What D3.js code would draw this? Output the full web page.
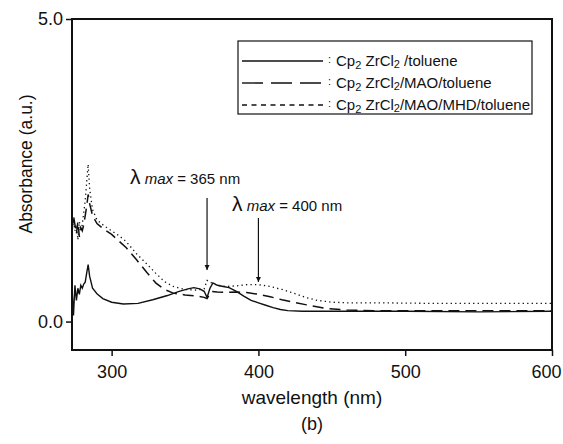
<!DOCTYPE html>
<html>
<head>
<meta charset="utf-8">
<script src="https://cdn.jsdelivr.net/npm/d3@7"></script>
<style>
  body { margin: 0; background: #fff; }
  text { font-family: "Liberation Sans", Arial, sans-serif; fill: #111; }
</style>
</head>
<body>
<div class="grafico"></div>
<script>
const width = 563, height = 444;

// data
const wlSolid = [273, 274, 275, 276, 277, 278, 279, 280, 281, 282, 283, 284, 285, 287, 290, 294, 300, 308, 318, 328, 338, 346, 352, 356, 360, 363, 365, 367, 369, 372, 376, 380, 385, 390, 395, 400, 405, 410, 415, 420, 430, 440, 460, 500, 550, 600];
const absSolid = [0.55, 0.1, 0.6, 0.35, 0.55, 0.45, 0.6, 0.55, 0.62, 0.65, 0.8, 0.94, 0.75, 0.55, 0.46, 0.38, 0.32, 0.29, 0.30, 0.36, 0.43, 0.50, 0.54, 0.56, 0.54, 0.50, 0.40, 0.55, 0.64, 0.60, 0.58, 0.56, 0.50, 0.42, 0.35, 0.31, 0.27, 0.23, 0.20, 0.18, 0.17, 0.17, 0.17, 0.17, 0.16, 0.17];

const wlMAO = [273, 274, 275, 276, 277, 278, 279, 280, 281, 282, 283, 284, 285, 287, 290, 295, 300, 305, 310, 317, 324, 330, 336, 342, 350, 358, 363, 365, 368, 372, 378, 385, 392, 400, 408, 416, 424, 432, 445, 460, 480, 520, 560, 600];
const absMAO = [1.5, 1.75, 1.6, 1.45, 1.65, 1.4, 1.55, 1.5, 1.6, 1.75, 1.9, 2.1, 1.95, 1.75, 1.62, 1.52, 1.44, 1.33, 1.22, 1.02, 0.81, 0.64, 0.53, 0.47, 0.44, 0.42, 0.40, 0.38, 0.50, 0.49, 0.48, 0.49, 0.48, 0.45, 0.41, 0.36, 0.32, 0.28, 0.22, 0.19, 0.18, 0.18, 0.18, 0.18];

const wlMHD = [273, 274, 275, 276, 277, 278, 279, 280, 281, 282, 283, 284, 285, 287, 290, 295, 300, 305, 310, 317, 324, 330, 336, 342, 350, 358, 363, 365, 368, 372, 378, 385, 392, 400, 408, 416, 424, 432, 440, 450, 460, 480, 520, 560, 600];
const absMHD = [1.45, 1.7, 1.5, 1.6, 1.35, 1.65, 1.5, 1.6, 1.8, 2.0, 2.3, 2.6, 2.2, 1.85, 1.68, 1.58, 1.50, 1.42, 1.32, 1.12, 0.95, 0.80, 0.66, 0.58, 0.53, 0.52, 0.54, 0.68, 0.64, 0.60, 0.58, 0.59, 0.61, 0.61, 0.58, 0.53, 0.47, 0.40, 0.35, 0.32, 0.31, 0.31, 0.30, 0.30, 0.30];

const xTicks = [300, 400, 500, 600];
const yTicks = [0, 5];
const legendLabels = [" /toluene", "/MAO/toluene", "/MAO/MHD/toluene"];
const peaks = [365, 400];

const margin = { top: 19, right: 11, bottom: 94, left: 72 };
const w = width - margin.left - margin.right;
const h = height - margin.top - margin.bottom;

const svg = d3.select(".grafico")
    .append("svg")
    .attr("width", width)
    .attr("height", height);

const g = svg.append("g")
    .attr("transform", `translate(${margin.left}, ${margin.top})`);

const x = d3.scaleLinear().domain([273, 600]).range([0, w]);
const y = d3.scaleLinear().domain([-0.47, 5.0]).range([h, 0]);

const series = [
    { wl: wlSolid, abs: absSolid, dash: null, width: 1.4 },
    { wl: wlMAO, abs: absMAO, dash: "11,6", width: 1.5 },
    { wl: wlMHD, abs: absMHD, dash: "1.3,3.2", width: 1.3 }
];

const line = d3.line()
    .x(d => x(d[0]))
    .y(d => y(d[1]));

g.selectAll("path.curve")
    .data(series)
    .enter().append("path")
    .attr("class", "curve")
    .attr("fill", "none")
    .attr("stroke", "#111")
    .attr("stroke-width", d => d.width)
    .attr("stroke-dasharray", d => d.dash)
    .attr("d", d => line(d3.zip(d.wl, d.abs)));

// axes
const xAxis = g.append("g")
    .attr("transform", `translate(0, ${h})`)
    .call(d3.axisBottom(x).tickValues(xTicks).tickSize(6).tickPadding(9).tickFormat(d3.format("d")));
const yAxis = g.append("g")
    .call(d3.axisLeft(y).tickValues(yTicks).tickSize(6).tickPadding(3).tickFormat(d3.format(".1f")));

[xAxis, yAxis].forEach(a => {
    a.select(".domain").remove();
    a.selectAll("line").attr("stroke", "#111").attr("stroke-width", 1.5);
    a.selectAll("text").style("font-size", "18px").attr("fill", "#111");
});
// last label sits a little left of its tick, as in the source
xAxis.selectAll(".tick text").filter(d => d === 600).attr("dx", "-6");

// frame
g.append("rect")
    .attr("width", w)
    .attr("height", h)
    .attr("fill", "none")
    .attr("stroke", "#111")
    .attr("stroke-width", 2);

// axis titles
svg.append("text")
    .attr("x", margin.left + w / 2)
    .attr("y", 404)
    .attr("text-anchor", "middle")
    .style("font-size", "19px")
    .text("wavelength (nm)");

svg.append("text")
    .attr("transform", `translate(32, ${margin.top + 145}) rotate(-90)`)
    .attr("text-anchor", "middle")
    .style("font-size", "17.5px")
    .text("Absorbance (a.u.)");

svg.append("text")
    .attr("x", margin.left + w / 2)
    .attr("y", 430)
    .attr("text-anchor", "middle")
    .style("font-size", "18px")
    .text("(b)");

// arrows for peak maxima
const arrowTop = [198 - margin.top, 218 - margin.top];
const arrowTip = [270 - margin.top, 282 - margin.top];
const labelPos = [[130, 184], [232, 211]];

svg.append("defs").append("marker")
    .attr("id", "head")
    .attr("viewBox", "0 0 10 10")
    .attr("refX", 10).attr("refY", 5)
    .attr("markerWidth", 5).attr("markerHeight", 7)
    .attr("markerUnits", "userSpaceOnUse")
    .attr("orient", "auto")
    .append("path")
    .attr("d", "M0,0L10,5L0,10Z")
    .attr("fill", "#111");

peaks.forEach((p, i) => {
    g.append("line")
        .attr("x1", x(p)).attr("x2", x(p))
        .attr("y1", arrowTop[i]).attr("y2", arrowTip[i])
        .attr("stroke", "#111")
        .attr("stroke-width", 1.2)
        .attr("marker-end", "url(#head)");

    const t = svg.append("text")
        .attr("x", labelPos[i][0])
        .attr("y", labelPos[i][1]);
    t.append("tspan").style("font-size", "21px").text("λ");
    t.append("tspan").style("font-size", "15px").style("font-style", "italic").text(" max");
    t.append("tspan").style("font-size", "15px").text(` = ${p} nm`);
});

// legend
const lg = svg.append("g");
lg.append("rect")
    .attr("x", 238).attr("y", 41)
    .attr("width", 294).attr("height", 73)
    .attr("fill", "#fff")
    .attr("stroke", "#111")
    .attr("stroke-width", 1.2);

const legendDash = [null, "21,8", "5,4.5"];
legendLabels.forEach((lab, i) => {
    const ly = 61 + i * 22;
    lg.append("line")
        .attr("x1", 242).attr("x2", 323)
        .attr("y1", ly).attr("y2", ly)
        .attr("stroke", "#111")
        .attr("stroke-width", 1.4)
        .attr("stroke-dasharray", legendDash[i]);
    lg.append("text")
        .attr("x", 328).attr("y", ly + 2)
        .style("font-size", "11px")
        .text(":");
    const t = lg.append("text")
        .attr("x", 336).attr("y", ly + 5)
        .style("font-size", "15px");
    t.append("tspan").text("Cp");
    t.append("tspan").attr("dy", 3).style("font-size", "11px").text("2");
    t.append("tspan").attr("dy", -3).text(" ZrCl");
    t.append("tspan").attr("dy", 2).style("font-size", "11px").text("2");
    t.append("tspan").attr("dy", -2).text(lab);
});
</script>
</body>
</html>
